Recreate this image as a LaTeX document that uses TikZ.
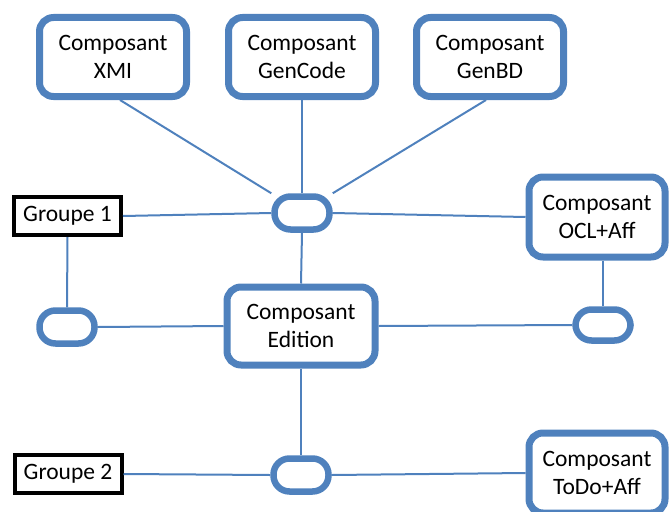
\documentclass[tikz,border=0pt]{standalone}
\usepackage{fontspec}
\setmainfont{Carlito}
\usepackage{tikz}
\usetikzlibrary{positioning}

\definecolor{compblue}{HTML}{4F81BD}

\begin{document}
\begin{tikzpicture}[x=1pt, y=-1pt,
			comp/.style={draw=compblue, line width=7pt, rounded corners=14pt, minimum width=147pt, minimum height=79pt, align=center, font=\fontsize{23.5}{28.5}\selectfont, inner sep=0pt},
			port/.style={draw=compblue, line width=6.5pt, rounded corners=16pt, minimum width=55pt, minimum height=33pt, inner sep=0pt},
			group/.style={draw=black, line width=4pt, minimum width=107pt, minimum height=38pt, font=\fontsize{23.5}{28.5}\selectfont, inner sep=0pt},
			link/.style={draw=compblue, line width=2pt}]
			
			\useasboundingbox (0,0) rectangle (671,511);
			
			\node[comp] (xmi) at (113,57) {Composant\\XMI};
			\node[comp] (gencode) at (302,57) {Composant\\GenCode};
			\node[comp] (genbd) at (490,57) {Composant\\GenBD};
			\node[port] (hub) at (302,213) {};
			\node[group] (grp1) at (67.5,216) {Groupe 1};
			\node[comp, minimum width=136pt, minimum height=80pt] (ocl) at (597,217) {Composant\\OCL+Aff};
			\node[port] (portl) at (67,327) {};
			\node[comp, minimum width=148pt, minimum height=78pt] (edition) at (301,326) {Composant\\Edition};
			\node[port, minimum height=31pt] (portr) at (603,325) {};
			\node[port] (portb) at (301,475) {};
			\node[group] (grp2) at (68,474) {Groupe 2};
			\node[comp, minimum width=136pt, minimum height=80pt] (todo) at (597,473) {Composant\\ToDo+Aff};
			
			\draw[link] ([xshift=7pt]xmi.south) -- (hub.north west);
			\draw[link] (gencode.south) -- (hub.north);
			\draw[link] ([xshift=-4pt]genbd.south) -- (hub.north east);
			\draw[link] (grp1.east) -- (hub.west);
			\draw[link] (hub.east) -- (ocl.west);
			\draw[link] (grp1.south) -- (portl.north);
			\draw[link] (portl.east) -- (edition.west);
			\draw[link] (hub.south) -- (edition.north);
			\draw[link] (edition.east) -- (portr.west);
			\draw[link] (portr.north |- ocl.south) -- (portr.north);
			\draw[link] (edition.south) -- (portb.north);
			\draw[link] (grp2.east) -- (portb.west);
			\draw[link] (portb.east) -- (todo.west);
			
		\end{tikzpicture}
\end{document}
